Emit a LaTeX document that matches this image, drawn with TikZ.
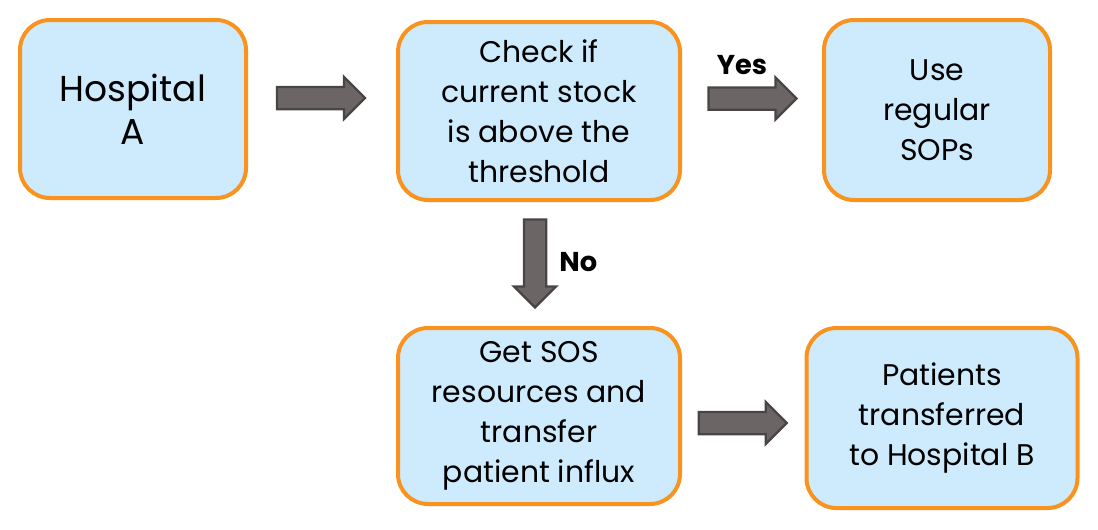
\documentclass[tikz,border=0pt]{standalone}
\usepackage{fontspec}
\setmainfont{Poppins}
\usetikzlibrary{positioning}
\usetikzlibrary{shapes.arrows, calc}
\definecolor{boxfill}{HTML}{CDEBFC}
\definecolor{boxline}{HTML}{F7931E}
\definecolor{arrfill}{HTML}{6C6565}
\definecolor{arrline}{HTML}{4A4545}
\tikzstyle{stepbox} = [rectangle, rounded corners=0.6cm, minimum width=4.52cm, minimum height=3.56cm, text centered, align=center, draw=boxline, line width=0.08cm, fill=boxfill, font=\fontsize{17}{22.8}\selectfont]
\tikzstyle{widebox} = [stepbox, minimum width=5.64cm]
\tikzstyle{fatarrow} = [single arrow, draw=arrline, fill=arrfill, line width=0.045cm, inner xsep=0pt, inner ysep=0.2cm, minimum height=1.76cm, single arrow head extend=0.2cm, single arrow head indent=0cm]
\tikzstyle{answer} = [font=\fontsize{15.5}{18}\selectfont\bfseries]

\begin{document}
\begin{tikzpicture}
        \useasboundingbox (0,0) rectangle (21.96,-10.58);
        \node (hosp) [stepbox, font=\fontsize{20.5}{24.4}\selectfont] at (2.66,-2.18) {Hospital\\A};
        \node (check) [widebox] at (10.78,-2.22) {Check if\\current stock\\is above the\\threshold};
        \node (sops) [stepbox, minimum height=3.6cm] at (18.74,-2.20) {Use\\regular\\SOPs};
        \node (sos) [widebox, minimum height=3.52cm] at (10.78,-8.32) {Get SOS\\resources and\\transfer\\patient influx};
        \node (pat) [stepbox, minimum width=5.42cm, minimum height=3.6cm] at (18.84,-8.36) {Patients\\transferred\\to Hospital B};
        \node (ar1) [fatarrow, xshift=-0.13cm] at ($(hosp.east)!0.5!(check.west)+(0,0.24)$) {};
        \node (ar2) [fatarrow, xshift=-0.1cm] at ($(check.east)!0.5!(sops.west)+(0,0.24)$) {};
        \node (ar3) [fatarrow, inner xsep=0.2cm, inner ysep=0pt, shape border rotate=270, xshift=-0.08cm, yshift=0.12cm] at ($(check.south)!0.5!(sos.north)$) {};
        \node (ar4) [fatarrow, xshift=-0.12cm, yshift=-0.12cm] at ($(sos.east)!0.5!(pat.west)$) {};
        \node (yes) [answer, above=0.1cm of ar2, xshift=-0.1cm] {Yes};
        \node (no) [answer, right=0.12cm of ar3, yshift=-0.08cm] {No};
    \end{tikzpicture}
\end{document}
